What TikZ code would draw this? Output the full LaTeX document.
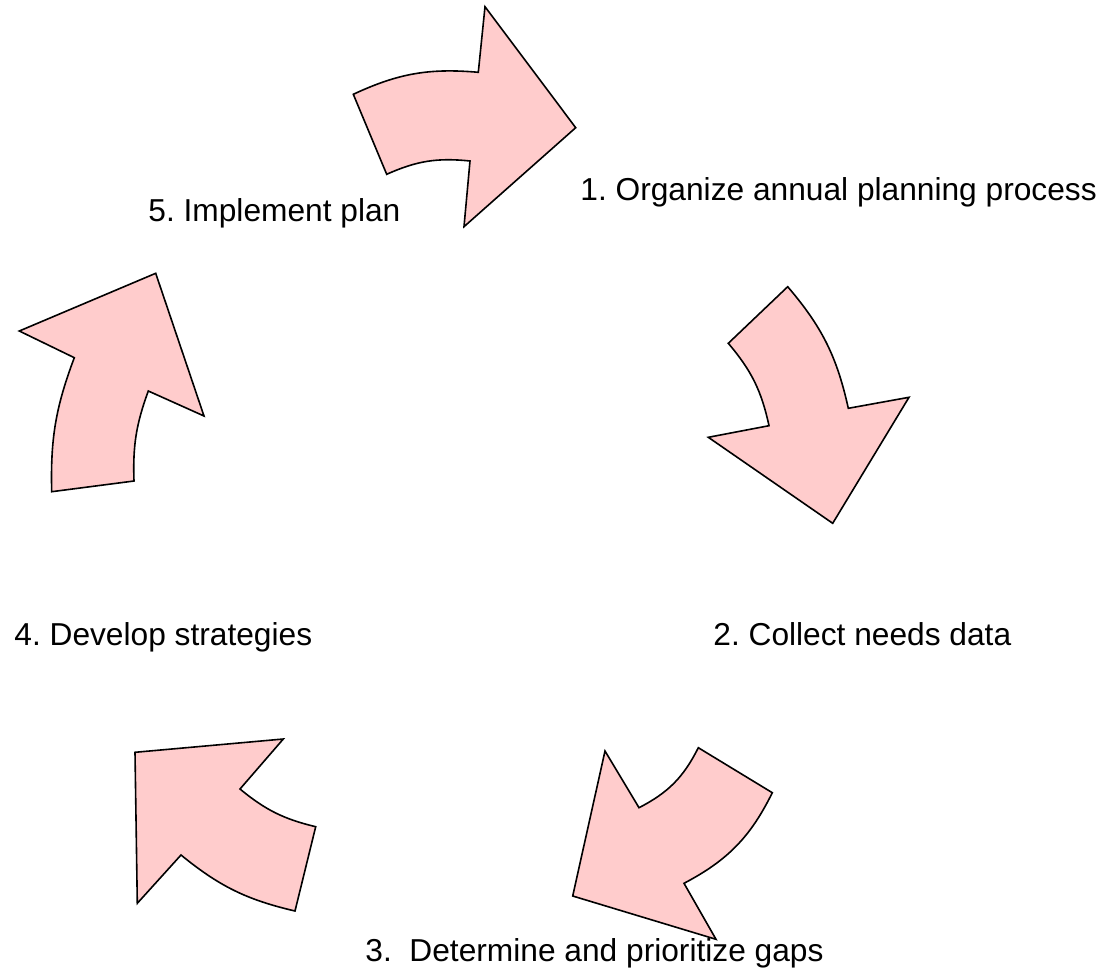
\documentclass[tikz,border=0pt]{standalone}
\usepackage{fontspec}
\setmainfont{Liberation Sans}
\frenchspacing
\definecolor{arrowpink}{HTML}{FFCCCC}
\tikzset{
	cyclearrow/.style={draw=black, fill=arrowpink, line width=0.8pt, line join=miter},
	steplabel/.style={anchor=base west, inner sep=0pt, font=\fontsize{15.85}{19}\selectfont}
}

\begin{document}
\begin{tikzpicture}[x=0.5pt, y=-0.5pt]
	\useasboundingbox (0,0) rectangle (1103,969);

	\node[steplabel] (org) at (580,200) {1. Organize annual planning process};
	\node[steplabel] (collect) at (713,645) {2. Collect needs data};
	\node[steplabel] (gaps) at (365,961) {3.\ \ Determine and prioritize gaps};
	\node[steplabel] (strat) at (14,645) {4. Develop strategies};
	\node[steplabel] (impl) at (148,221) {5. Implement plan};

	\draw[cyclearrow] (353.3,94.3) to[bend left=15] (478.3,72.3) -- (485,6.7) -- (575.7,127.7)
		-- (464,226.7) -- (470,161) to[bend right=15] (386.7,174.3) -- cycle;
	\draw[cyclearrow] (787.7,286.7) to[bend left=14] (848.3,408.3) -- (909,397.3) -- (832.7,523.3)
		-- (708.3,437.3) -- (769,425.7) to[bend right=14] (728.3,343.3) -- cycle;
	\draw[cyclearrow] (772.3,792.7) to[bend left=18] (684,883.3) -- (716,939.3) -- (572.7,896)
		-- (605,751) -- (639,807.7) to[bend right=18] (698.3,747.7) -- cycle;
	\draw[cyclearrow] (135,752.3) -- (283.3,739) -- (240,789) to[bend right=13] (315.7,826.7)
		-- (295,911) to[bend left=13] (181,855) -- (137.3,903.3) -- cycle;
	\draw[cyclearrow] (51.7,491.7) to[bend left=11] (74.3,357.7) -- (19.3,331) -- (155.7,273.3)
		-- (204,416) -- (148.3,391) to[bend right=11] (134,481) -- cycle;
\end{tikzpicture}
\end{document}
